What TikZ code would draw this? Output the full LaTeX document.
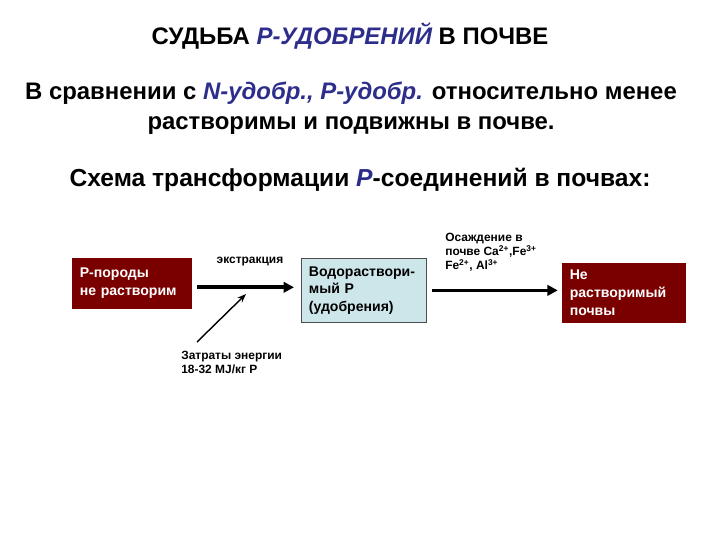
\documentclass[tikz,border=0pt]{standalone}
\usepackage{fontspec}
\setmainfont{Liberation Sans}
\usepackage{xcolor}
\usepackage{tikz}
\usetikzlibrary{arrows.meta,positioning,calc}

\definecolor{pblue}{RGB}{45,45,140}
\definecolor{pred}{RGB}{122,0,0}
\definecolor{plight}{RGB}{205,230,234}

\begin{document}
\begin{tikzpicture}[
  x=0.025cm, y=-0.025cm,
  every node/.style={font=\bfseries},
  headtext/.style={font=\bfseries\fontsize{17}{21}\selectfont, align=center},
  thickarrow/.style={-{Triangle[length=2.6mm,width=2.6mm]}, line width=2.6pt},
  thinarrow/.style={-{Stealth[length=2.2mm]}, line width=1pt},
  box/.style={
    draw,
    align=left,
    anchor=north west,
    inner xsep=5pt,
    inner ysep=2pt,
    font=\bfseries\fontsize{10}{12.5}\selectfont
  },
  redbox/.style={box, fill=pred, draw=pred, text=white},
  bluebox/.style={box, fill=plight, draw=black!70, line width=0.5pt},
  smalllabel/.style={align=left, inner sep=0pt, font=\bfseries\fontsize{8.5}{10}\selectfont}
]
\useasboundingbox (0,0) rectangle (720,540);

% headings
\node[headtext, font=\bfseries\fontsize{17}{20}\selectfont] (title) at (350,36)
  {СУДЬБА \textcolor{pblue}{\itshape P-УДОБРЕНИЙ} В ПОЧВЕ};
\node[headtext] (intro) at (351,108)
  {В сравнении с \textcolor{pblue}{\itshape N-удобр., P-удобр.} относительно менее\\
   растворимы и подвижны в почве.};
\node[headtext, font=\bfseries\fontsize{17.5}{21}\selectfont] (scheme) at (360,180)
  {Схема трансформации \textcolor{pblue}{\itshape P}-соединений в почвах:};

% boxes
\node[redbox, minimum width=2.975cm, minimum height=1.25cm, text width=2.6cm] (pporody) at (72,258)
  {P-породы\\не растворим};
\node[bluebox, minimum width=3.125cm, minimum height=1.6cm, text width=2.75cm] (vodo) at (301,258)
  {Водораствори-\\мый P\\(удобрения)};
\node[redbox, minimum width=3.075cm, minimum height=1.475cm, text width=2.7cm] (nerast) at (562,263)
  {Не\\растворимый\\почвы};

% labels
\node[smalllabel] (ekstr) at (250,262) {экстракция};
\node[smalllabel, anchor=north west] (zatraty) at (181,351)
  {Затраты энергии\\18-32 MJ/кг P};
\node[smalllabel, anchor=north west] (osazh) at (445,233)
  {Осаждение в\\почве Ca\textsuperscript{2+},Fe\textsuperscript{3+}\\Fe\textsuperscript{2+}, Al\textsuperscript{3+}};

\coordinate (energy) at (246,294);

\draw[thickarrow, shorten <=4pt, shorten >=5pt] ($(pporody.east)+(0,4)$) -- ($(pporody.east -| vodo.west)+(0,4)$);
\draw[thickarrow, shorten <=4pt, shorten >=3pt] (vodo.east) -- (vodo.east -| nerast.west);
\draw[thinarrow] ($(zatraty.north west)+(16,-9)$) -- (energy);

\end{tikzpicture}
\end{document}
